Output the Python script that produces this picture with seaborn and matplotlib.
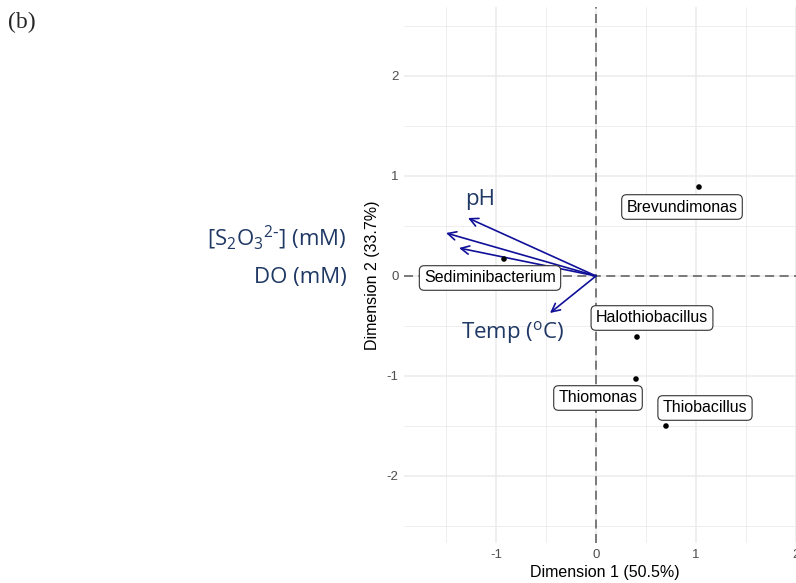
import matplotlib
matplotlib.use("Agg")
import matplotlib.pyplot as plt
import seaborn as sns
import pandas as pd
import numpy as np

# Data
taxa = ["Brevundimonas", "Sediminibacterium", "Halothiobacillus", "Thiomonas", "Thiobacillus"]
dim1 = [1.03, -0.92, 0.41, 0.40, 0.70]
dim2 = [0.89, 0.17, -0.61, -1.03, -1.50]
label_x = [0.86, -1.06, 0.56, 0.02, 1.09]
label_y = [0.69, -0.02, -0.42, -1.22, -1.32]

env_vars = ["pH", r"[S$_2$O$_3$$^{2\text{-}}$] (mM)", "DO (mM)", r"Temp ($^{o}$C)"]
env_x = [-1.28, -1.50, -1.37, -0.46]
env_y = [0.58, 0.43, 0.28, -0.37]

x_ticks = [-1, 0, 1, 2]
y_ticks = [-2, -1, 0, 1, 2]

sns.set_theme(style="white")
plt.rcParams["font.family"] = ["Liberation Sans", "DejaVu Sans"]
plt.rcParams["mathtext.default"] = "regular"

fig = plt.figure(figsize=(7.96, 5.83), dpi=100)
ax = fig.add_axes([404/796, 40/583, 402/796, 536/583])
ax.set_facecolor("white")

df = pd.DataFrame({"taxon": taxa, "d1": dim1, "d2": dim2})

# grid
for v in np.arange(-1.5, 2.1, 0.5):
    major = float(v).is_integer()
    ax.axvline(v, color="#EBEBEB", lw=1.1 if major else 0.6, zorder=0)
for v in np.arange(-2.5, 2.6, 0.5):
    major = float(v).is_integer()
    ax.axhline(v, color="#EBEBEB", lw=1.1 if major else 0.6, zorder=0)

ax.axvline(0, color="#707070", lw=1.3, ls=(0, (5, 3)), zorder=1)
ax.axhline(0, color="#707070", lw=1.3, ls=(0, (5, 3)), zorder=1)

sns.scatterplot(data=df, x="d1", y="d2", ax=ax, color="black", s=16,
                edgecolor="none", zorder=4, legend=False)

for name, lx, ly in zip(taxa, label_x, label_y):
    ax.text(lx, ly, name, ha="center", va="center", fontsize=11.5, color="black",
            zorder=5,
            bbox=dict(boxstyle="round,pad=0.3,rounding_size=0.3", fc="white",
                      ec="#333333", lw=0.8))

for ex, ey in zip(env_x, env_y):
    ax.annotate("", xy=(ex, ey), xytext=(0, 0),
                arrowprops=dict(arrowstyle="->,head_length=0.5,head_width=0.25",
                                color="#10109A", lw=1.2, shrinkA=0, shrinkB=0),
                zorder=3)

# arrow labels (positions in data units)
lab_col = "#1F3864"
lab_font = ["Open Sans", "DejaVu Sans"]
ax.text(-1.16, 0.76, env_vars[0], ha="center", va="center", fontsize=16,
        color=lab_col, family=lab_font, clip_on=False)
ax.text(-2.49, 0.38, env_vars[1], ha="right", va="center", fontsize=16,
        color=lab_col, family=lab_font, clip_on=False)
ax.text(-2.49, -0.01, env_vars[2], ha="right", va="center", fontsize=16,
        color=lab_col, family=lab_font, clip_on=False)
ax.text(-0.83, -0.56, env_vars[3], ha="center", va="center", fontsize=16,
        color=lab_col, family=lab_font, clip_on=False)

ax.set_xlim(-1.92, 2.1)
ax.set_ylim(-2.67, 2.69)
ax.set_xticks(x_ticks)
ax.set_yticks(y_ticks)
ax.set_xticklabels([str(t) for t in x_ticks])
ax.set_yticklabels([str(t) for t in y_ticks])
ax.tick_params(axis="both", labelsize=9.5, colors="#4D4D4D", length=0, pad=4)
for s in ax.spines.values():
    s.set_visible(False)
ax.set_xlabel("Dimension 1 (50.5%)", fontsize=11.5, color="black", labelpad=3)
ax.set_ylabel("Dimension 2 (33.7%)", fontsize=11.5, color="black", labelpad=5)

fig.text(8/796, 1 - 22/583, "(b)", fontsize=17, family=["Liberation Serif"],
         ha="left", va="center")

fig.savefig("out.png", dpi=100)
